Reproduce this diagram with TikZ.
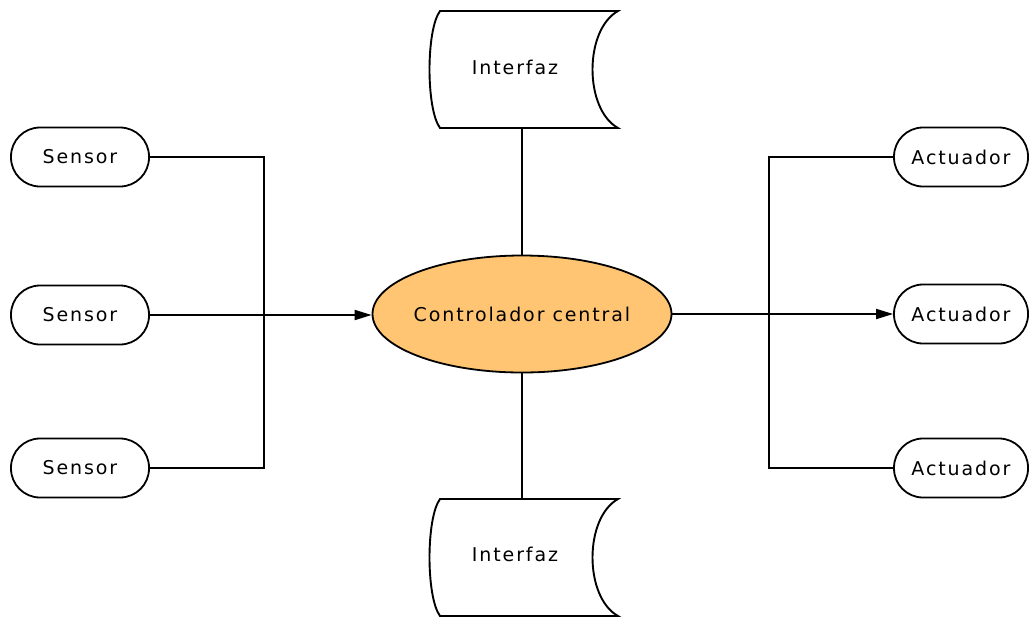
\documentclass[tikz,border=0pt]{standalone}
\usepackage{fontspec}
\setmainfont{DejaVu Sans}[LetterSpace=10]
\usetikzlibrary{shapes.geometric,arrows.meta}
\definecolor{ctrlfill}{HTML}{FFC573}
\tikzset{
  pill/.style={draw=black, line width=1.8pt, rounded corners=29pt, minimum height=59pt, inner sep=0pt, font=\fontsize{19}{22}\selectfont},
  conn/.style={draw=black, line width=1.8pt},
  arr/.style={conn, -{Triangle[length=17pt,width=10pt]}},
  lbl/.style={inner sep=0pt, font=\fontsize{19}{22}\selectfont},
  storebox/.style={inner sep=0pt, minimum width=190pt, minimum height=117pt},
  storeline/.style={draw=black, line width=1.9pt}
}
\begin{document}
\begin{tikzpicture}[x=1pt,y=-1pt]
\useasboundingbox (0,0) rectangle (1030,619);
% sensors
\node[pill, minimum width=138pt] (s1) at (80,157) {Sensor};
\node[pill, minimum width=138pt] (s2) at (80,315) {Sensor};
\node[pill, minimum width=138pt] (s3) at (80,468) {Sensor};
% actuators
\node[pill, minimum width=134pt] (a1) at (961,157) {Actuador};
\node[pill, minimum width=134pt] (a2) at (961,314) {Actuador};
\node[pill, minimum width=134pt] (a3) at (961,468) {Actuador};
% controller
\node[ellipse, draw=black, line width=1.8pt, fill=ctrlfill, minimum width=299pt, minimum height=117pt, inner sep=0pt] (c) at (522,314) {};
\node[lbl] (ct) at (c.center) {Controlador central};
% interfaces
\node[storebox] (i1) at (524,69.5) {};
\node[storebox] (i2) at (524,557.5) {};
\draw[storeline] (440,11) -- (618,11) .. controls (584,30) and (584,109) .. (618,128) -- (440,128) .. controls (426,109) and (426,30) .. (440,11) -- cycle;
\draw[storeline] (440,499) -- (618,499) .. controls (584,518) and (584,597) .. (618,616) -- (440,616) .. controls (426,597) and (426,518) .. (440,499) -- cycle;
\node[lbl] (i1t) at (515,67) {Interfaz};
\node[lbl] (i2t) at (515,554) {Interfaz};
\coordinate (i1b) at (522,128);
\coordinate (i2t0) at (522,499);
% connectors
\coordinate (jl) at (264,315);
\coordinate (jr) at (769,314);
\draw[conn] (s1.east) -| (jl) |- (s3.east);
\draw[arr] (s2.east) -- (s2.east -| c.west);
\draw[conn] (a1.west) -| (jr) |- (a3.west);
\draw[arr] (c.east) -- (a2.west);
\draw[conn] (i1b) -- (c.north);
\draw[conn] (c.south) -- (i2t0);
\end{tikzpicture}
\end{document}
